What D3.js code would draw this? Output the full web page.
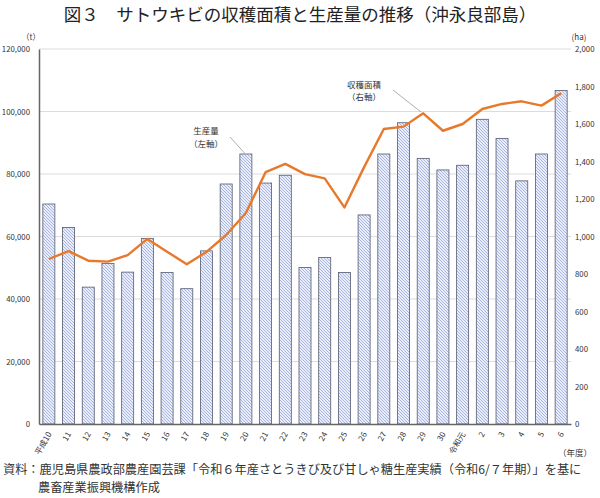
<!DOCTYPE html>
<html><head><meta charset="utf-8">
<script src="https://cdn.jsdelivr.net/npm/d3@7"></script>
<style>
body{margin:0;background:#fff;}
text{font-family:"Noto Sans CJK JP","Noto Sans",sans-serif;}
</style></head>
<body><svg id="c" width="600" height="498"></svg>
<script>
const categories = ["平成10","11","12","13","14","15","16","17","18","19","20","21","22","23","24","25","26","27","28","29","30","令和元","2","3","4","5","6"];
const production = [70400,62900,43800,51400,48600,59400,48500,43300,55400,76800,86400,77100,79600,50100,53300,48500,66900,86400,96400,85000,81300,82800,97500,91400,77800,86400,106700];
const harvestArea = [880,922,871,866,901,987,919,852,918,1008,1125,1343,1387,1333,1310,1155,1370,1573,1586,1657,1564,1600,1680,1707,1721,1698,1764];
const leftTicks = [0,20000,40000,60000,80000,100000,120000];
const rightTicks = [0,200,400,600,800,1000,1200,1400,1600,1800,2000];

const svg = d3.select("#c");
const m = {l:39, r:571, t:49, b:424};
const x = d3.scaleBand().domain(categories).range([m.l, m.r]).paddingInner(0.39).paddingOuter(0.195);
const yL = d3.scaleLinear().domain([0,120000]).range([m.b, m.t]);
const yR = d3.scaleLinear().domain([0,2000]).range([m.b, m.t]);
const fmt = d3.format(",");

// hatch pattern
const defs = svg.append("defs");
const pat = defs.append("pattern").attr("id","hatch").attr("patternUnits","userSpaceOnUse")
  .attr("width",3).attr("height",3);
pat.append("rect").attr("width",3).attr("height",3).attr("fill","#e8edf9");
pat.append("path").attr("d","M-1,-1 L4,4 M-1,2 L1,4 M2,-1 L4,1").attr("stroke","#98a8da").attr("stroke-width",0.8);

// title
svg.append("text").attr("x",300).attr("y",21).attr("text-anchor","middle")
  .attr("font-size",17.5).attr("fill","#222").text("図３　サトウキビの収穫面積と生産量の推移（沖永良部島）");

// gridlines
svg.append("g").selectAll("line").data(leftTicks.filter(d=>d>0)).join("line")
  .attr("x1",m.l).attr("x2",m.r).attr("y1",d=>yL(d)).attr("y2",d=>yL(d))
  .attr("stroke","#dcdcdc").attr("stroke-width",1);

// left axis
const axL = svg.append("g").attr("transform",`translate(${m.l},0)`)
  .call(d3.axisLeft(yL).tickValues(leftTicks).tickFormat(fmt).tickSize(0).tickPadding(9));
axL.select(".domain").attr("stroke","#666").attr("stroke-width",1.5);
axL.selectAll("text").attr("font-size",7.8).attr("fill","#333").attr("font-family","'Liberation Sans',sans-serif");

// right axis
const axR = svg.append("g").attr("transform",`translate(${m.r},0)`)
  .call(d3.axisRight(yR).tickValues(rightTicks).tickFormat(fmt).tickSize(0).tickPadding(4));
axR.select(".domain").remove();
axR.selectAll("text").attr("font-size",7.8).attr("fill","#333").attr("font-family","'Liberation Sans',sans-serif");

// bars
svg.append("g").selectAll("rect").data(categories).join("rect")
  .attr("x",(d)=>x(d)).attr("width",x.bandwidth())
  .attr("y",(d,i)=>yL(production[i])).attr("height",(d,i)=>m.b-yL(production[i]))
  .attr("fill","url(#hatch)").attr("stroke","#555a6e").attr("stroke-width",0.8);

// bottom axis
const axB = svg.append("g").attr("transform",`translate(0,${m.b})`)
  .call(d3.axisBottom(x).tickSize(0).tickPadding(0));
axB.select(".domain").attr("stroke","#666").attr("stroke-width",1.5);
axB.selectAll("text").attr("font-size",8).attr("fill","#333")
  .attr("text-anchor","end").attr("dy",0).attr("y",0)
  .attr("transform","translate(3,10) rotate(-60)");

// line
const line = d3.line().x((d,i)=>x(categories[i])+x.bandwidth()/2).y(d=>yR(d));
svg.append("path").datum(harvestArea).attr("d",line).attr("fill","none")
  .attr("stroke","#e8792a").attr("stroke-width",2.4).attr("stroke-linejoin","round");

// unit labels
svg.append("text").attr("x",31).attr("y",40).attr("text-anchor","middle").attr("font-size",8).attr("fill","#333").text("（t）");
svg.append("text").attr("x",579).attr("y",40).attr("text-anchor","middle").attr("font-size",8).attr("fill","#333").text("(ha)");
svg.append("text").attr("x",575).attr("y",456).attr("text-anchor","middle").attr("font-size",8.5).attr("fill","#333").text("（年度）");

// annotations
const ann = svg.append("g").attr("font-size",8.5).attr("fill","#333");
ann.append("text").attr("x",206).attr("y",134).attr("text-anchor","middle").text("生産量");
ann.append("text").attr("x",206).attr("y",147).attr("text-anchor","middle").text("（左軸）");
svg.append("line").attr("x1",230).attr("y1",137).attr("x2",244.5).attr("y2",153).attr("stroke","#999").attr("stroke-width",0.8);
ann.append("text").attr("x",364).attr("y",88).attr("text-anchor","middle").text("収穫面積");
ann.append("text").attr("x",364).attr("y",100).attr("text-anchor","middle").text("（右軸）");
svg.append("line").attr("x1",393).attr("y1",90).attr("x2",421).attr("y2",112).attr("stroke","#999").attr("stroke-width",0.8);

// source
const src = svg.append("g").attr("font-size",12.2).attr("fill","#333");
src.append("text").attr("x",3).attr("y",474).text("資料：鹿児島県農政部農産園芸課「令和６年産さとうきび及び甘しゃ糖生産実績（令和6/７年期）」を基に");
src.append("text").attr("x",38).attr("y",492).text("農畜産業振興機構作成");
</script></body></html>
